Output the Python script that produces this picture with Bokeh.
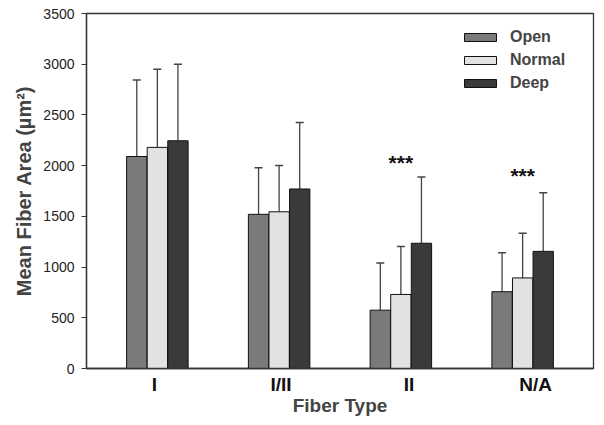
from bokeh.plotting import figure
from bokeh.models import (Range1d, FixedTicker, Whisker, TeeHead,
                          ColumnDataSource, Legend, LegendItem)
from bokeh.core.properties import value
from bokeh.embed import file_html
from bokeh.resources import INLINE

# ---- data ----
fiber_types = ["I", "I/II", "II", "N/A"]
open_mean = [2090, 1520, 575, 757]
open_sd = [755, 460, 465, 385]
normal_mean = [2180, 1545, 730, 893]
normal_sd = [770, 457, 473, 440]
deep_mean = [2245, 1770, 1235, 1155]
deep_sd = [755, 655, 652, 577]
sig_types = ["II", "N/A"]
sig_level = [2035, 1900]
sig_marks = ["***", "***"]

# styling: the category labels in the original sit slightly off the group centres
label_shift = [-0.025, 0.016, 0.066, 0.107]

FONT = "Liberation Sans"

idx = list(range(len(fiber_types)))
pos = {c: i for i, c in zip(idx, fiber_types)}

p = figure(width=600, height=424, output_backend="svg", toolbar_location=None,
           x_range=Range1d(-0.582, len(fiber_types) - 1 + 0.582),
           y_range=Range1d(0, 3500),
           min_border_left=86, min_border_right=7, min_border_top=13,
           min_border_bottom=56)
p.background_fill_color = "white"
p.border_fill_color = "white"
p.outline_line_color = "#333333"
p.outline_line_width = 1.3
p.xgrid.visible = False
p.ygrid.visible = False

off = 0.169
bw = 0.167
series = [(open_mean, open_sd, -off, "#7a7a7a", "Open"),
          (normal_mean, normal_sd, 0.0, "#e2e2e2", "Normal"),
          (deep_mean, deep_sd, off, "#3a3a3a", "Deep")]

items = []
for means, sds, o, color, name in series:
    src = ColumnDataSource(dict(x=[i + o for i in idx], top=means,
                                up=[m + s for m, s in zip(means, sds)]))
    r = p.vbar(x="x", top="top", width=bw, source=src, fill_color=color,
               line_color="#111111", line_width=1)
    w = Whisker(base="x", lower="top", upper="up", source=src,
                line_color="#444444", line_width=1.3,
                lower_head=None,
                upper_head=TeeHead(size=8, line_color="#444444", line_width=1.5))
    p.add_layout(w)
    items.append(LegendItem(label=name, renderers=[r]))

p.text(x=[pos[c] for c in sig_types], y=sig_level, text=sig_marks,
       text_align="center", text_baseline="middle", text_font=value(FONT),
       text_font_style="bold", text_font_size="21px", text_color="#111111")

legend = Legend(items=items, location=(374, 275), padding=0, margin=0,
                border_line_color=None, background_fill_alpha=0,
                glyph_width=40, glyph_height=10, label_height=20, spacing=3,
                label_standoff=10, label_text_font=FONT,
                label_text_font_style="bold", label_text_font_size="16px")
p.add_layout(legend)

# y axis
p.yaxis.ticker = FixedTicker(ticks=[0, 500, 1000, 1500, 2000, 2500, 3000, 3500])
p.yaxis.axis_label = "Mean Fiber Area (µm²)"
p.yaxis.axis_label_text_font = FONT
p.yaxis.axis_label_text_font_style = "bold"
p.yaxis.axis_label_text_font_size = "20px"
p.yaxis.axis_label_standoff = 5
p.yaxis.major_label_text_font = FONT
p.yaxis.major_label_text_font_size = "14px"
p.yaxis.major_label_text_color = "#222222"
p.yaxis.major_label_standoff = 7
p.yaxis.major_tick_out = 5
p.yaxis.major_tick_in = 0
p.yaxis.minor_tick_line_color = None
p.yaxis.axis_line_color = "#333333"
p.yaxis.axis_line_width = 1.3
p.yaxis.major_tick_line_color = "#333333"

# x axis: category names as tick labels
xticks = [i + s for i, s in zip(idx, label_shift)]
p.xaxis.ticker = FixedTicker(ticks=xticks)
p.xaxis.major_label_overrides = {t: c for t, c in zip(xticks, fiber_types)}
p.xaxis.minor_tick_line_color = None
p.xaxis.axis_label = "Fiber Type"
p.xaxis.axis_label_text_font = FONT
p.xaxis.axis_label_text_font_style = "bold"
p.xaxis.axis_label_text_font_size = "19px"
p.xaxis.axis_label_standoff = -3
p.xaxis.major_label_text_font = FONT
p.xaxis.major_label_text_font_style = "bold"
p.xaxis.major_label_text_font_size = "19px"
p.xaxis.major_label_text_color = "#111111"
p.xaxis.major_label_standoff = 5
p.xaxis.major_tick_out = 0
p.xaxis.major_tick_in = 0
p.xaxis.major_tick_line_color = None
p.xaxis.axis_line_color = "#333333"
p.xaxis.axis_line_width = 1.3

open("out.html", "w").write(file_html(p, INLINE))
